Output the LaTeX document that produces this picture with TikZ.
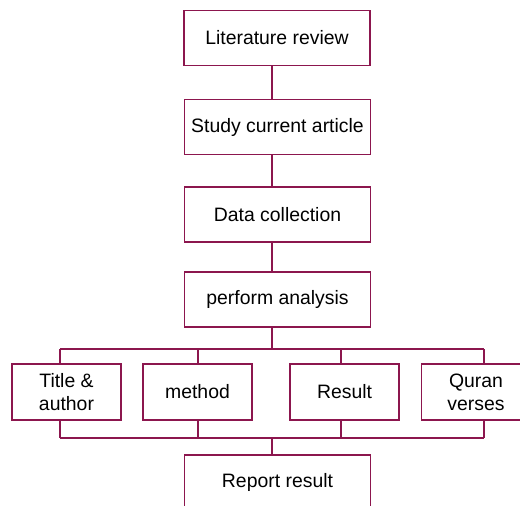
\documentclass[tikz,border=0pt]{standalone}
\usepackage{fontspec}
\setmainfont{Liberation Sans}
\definecolor{boxline}{RGB}{140,22,78}
\tikzset{
    stagebox/.style={draw=boxline, line width=1.1pt, fill=white, minimum width=186pt,
        minimum height=55pt, inner sep=0pt, align=center, font=\fontsize{19.4}{23}\selectfont},
    partbox/.style={stagebox, minimum width=109pt, minimum height=56pt},
    link/.style={draw=boxline, line width=1.1pt}
}
\begin{document}
\begin{tikzpicture}[x=1pt, y=-1pt]
            % picture frame 520 x 506
            \useasboundingbox (0,0) rectangle (520,506);
            \clip (0,0) rectangle (520,506);

            % main steps
            \node[stagebox] (lit) at (277,38) {Literature review};
            \node[stagebox] (study) at (277.5,127) {Study current article};
            \node[stagebox] (data) at (277.5,214.5) {Data collection};
            \node[stagebox] (perf) at (277.5,299.5) {perform analysis};

            % parts of the analysis
            \node[partbox] (title) at (66.5,392) {Title \&\\author};
            \node[partbox] (method) at (197.5,392) {method};
            \node[partbox] (result) at (344.5,392) {Result};
            \node[partbox] (quran) at (476,392) {Quran\\verses};

            \node[stagebox] (report) at (277.5,482.5) {Report result};

            % bus lines
            \coordinate (T1) at (60,349);
            \coordinate (T2) at (198,349);
            \coordinate (T3) at (341,349);
            \coordinate (T4) at (484,349);
            \coordinate (Tm) at (272,349);
            \coordinate (B1) at (60,438);
            \coordinate (B2) at (198,438);
            \coordinate (B3) at (341,438);
            \coordinate (B4) at (484,438);
            \coordinate (Bm) at (272,438);

            \draw[link] (lit.south -| Tm) -- (study.north -| Tm);
            \draw[link] (study.south -| Tm) -- (data.north -| Tm);
            \draw[link] (data.south -| Tm) -- (perf.north -| Tm);
            \draw[link] (perf.south -| Tm) -- (Tm);

            \draw[link] (T1) -- (T4);
            \draw[link] (T1) -- (title.north -| T1);
            \draw[link] (T2) -- (method.north -| T2);
            \draw[link] (T3) -- (result.north -| T3);
            \draw[link] (T4) -- (quran.north -| T4);

            \draw[link] (B1) -- (B4);
            \draw[link] (title.south -| B1) -- (B1);
            \draw[link] (method.south -| B2) -- (B2);
            \draw[link] (result.south -| B3) -- (B3);
            \draw[link] (quran.south -| B4) -- (B4);
            \draw[link] (Bm) -- (report.north -| Bm);
        \end{tikzpicture}
\end{document}
